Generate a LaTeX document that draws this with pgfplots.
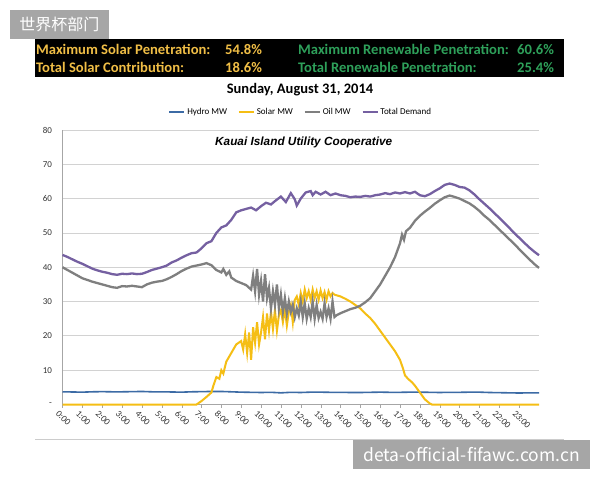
\documentclass[border=0pt]{standalone}
\usepackage{pgfplots}
\pgfplotsset{compat=1.18}
\usepackage{fontspec}
\setmainfont{Carlito}
\newfontfamily\arialf{Liberation Sans}
\newfontfamily\cjk{Noto Sans CJK SC}
\definecolor{hydro}{HTML}{3C6BA5}
\definecolor{solar}{HTML}{F5BE14}
\definecolor{oil}{HTML}{7F7F7F}
\definecolor{demand}{HTML}{7560A1}
\definecolor{bgold}{HTML}{F0BE46}
\definecolor{bgreen}{HTML}{2EA05A}
\definecolor{wm}{HTML}{A6A6A6}
\begin{document}
\begin{tikzpicture}
\fill[white] (0pt,0pt) rectangle (600pt,-480pt);
\path[use as bounding box] (0pt,0pt) rectangle (600pt,-480pt);
% watermark top-left
\fill[wm] (10pt,-10pt) rectangle (109pt,-39pt);
\node[text=white,font=\cjk\fontsize{16}{18}\selectfont] at (59.5pt,-24.5pt) {世界杯部门};
% banner
\fill[black] (35pt,-39pt) rectangle (564pt,-77pt);
\begin{scope}[every node/.style={anchor=base west,inner sep=0pt,font=\fontsize{14.6}{16}\selectfont\bfseries}]
\node[text=bgold] at (36pt,-54.5pt) {Maximum Solar Penetration:};
\node[text=bgold] at (225pt,-54.5pt) {54.8\%};
\node[text=bgold] at (36pt,-72pt) {Total Solar Contribution:};
\node[text=bgold] at (225pt,-72pt) {18.6\%};
\node[text=bgreen] at (298pt,-54.5pt) {Maximum Renewable Penetration:};
\node[text=bgreen] at (517pt,-54.5pt) {60.6\%};
\node[text=bgreen] at (298pt,-72pt) {Total Renewable Penetration:};
\node[text=bgreen] at (517pt,-72pt) {25.4\%};
\end{scope}
% title
\node[font=\fontsize{14.5}{16}\selectfont\bfseries] at (300pt,-90pt) {Sunday, August 31, 2014};
% separator line
\draw[gray!40,line width=1pt] (35pt,-439pt) -- (564pt,-439pt);
\begin{axis}[
  at={(62.5pt,-404.5pt)}, anchor=south west,
  scale only axis, width=476.5pt, height=274.5pt,
  xmin=0, xmax=24, ymin=0, ymax=80,
  axis x line*=bottom, axis y line*=left,
  axis line style={draw=gray!70, line width=0.8pt},
  xtick={0,...,23},
  xticklabels={0:00,1:00,2:00,3:00,4:00,5:00,6:00,7:00,8:00,9:00,10:00,11:00,12:00,13:00,14:00,15:00,16:00,17:00,18:00,19:00,20:00,21:00,22:00,23:00},
  xticklabel style={rotate=-45, anchor=north west, inner sep=0.5pt, yshift=-3pt, xshift=-1pt, font=\fontsize{9.2}{10}\selectfont, text=black!80},
  ytick={0,10,...,80},
  yticklabels={{-\hspace{3pt}},10,20,30,40,50,60,70,80},
  yticklabel style={font=\fontsize{9}{10}\selectfont, text=black!80, xshift=-4pt},
  /pgf/number format/assume math mode=true,
  ymajorgrids, grid style={gray!35, line width=0.8pt},
  major tick length=3pt, tick align=outside,
  ytick style={draw=none}, xtick style={draw=gray!70},
  legend columns=4,
  legend style={at={(0.5,1.065)}, anchor=center, draw=none, fill=none,
    font=\fontsize{9}{10}\selectfont, /tikz/every even column/.append style={column sep=9pt}},
  legend image code/.code={\draw[#1, line width=1.8pt] (0pt,0pt) -- (15pt,0pt);},
  clip=false,
]
\addplot[hydro, line width=1.6pt] coordinates {
(0,3.7)(0.5,3.65)(1,3.6)(1.5,3.7)(2,3.75)(2.5,3.7)(3,3.7)(3.5,3.75)(4,3.8)(4.5,3.7)(5,3.7)(5.5,3.65)(6,3.6)(6.5,3.7)(7,3.75)(7.5,3.8)(8,3.8)(8.5,3.7)(9,3.6)(9.5,3.55)(10,3.5)(10.5,3.55)(11,3.4)(11.5,3.55)(12,3.5)(12.5,3.6)(13,3.6)(13.5,3.55)(14,3.55)(14.5,3.5)(15,3.5)(15.5,3.55)(16,3.6)(16.5,3.55)(17,3.55)(17.5,3.6)(18,3.6)(18.5,3.55)(19,3.5)(19.5,3.55)(20,3.55)(20.5,3.6)(21,3.6)(21.5,3.5)(22,3.45)(22.5,3.4)(23,3.35)(23.5,3.4)(24,3.4)
};
\addlegendentry{Hydro MW}
\addplot[solar, line width=2pt] coordinates {
(0,0)(6.75,0)(7.0,1.0)(7.25,2.2)(7.5,3.5)(7.6,5.5)(7.75,8.0)(7.9,7.5)(8.0,10.0)(8.1,9.0)(8.25,12.5)(8.5,15.0)(8.75,17.5)(9.0,18.5)(9.1,16.0)(9.2,20.5)(9.3,15.0)(9.4,21.0)(9.5,13.0)(9.6,22.5)(9.7,18.0)(9.8,24.0)(9.9,17.5)(10.0,21.0)(10.1,25.5)(10.2,19.0)(10.3,26.5)(10.4,21.5)(10.5,27.0)(10.6,22.0)(10.7,27.5)(10.8,21.5)(10.9,26.0)(11.0,27.5)(11.1,24.0)(11.2,28.0)(11.3,23.0)(11.4,27.0)(11.5,29.0)(11.6,24.0)(11.7,30.5)(11.8,31.5)(11.9,29.0)(12.0,32.5)(12.1,30.0)(12.2,33.5)(12.3,31.0)(12.4,33.0)(12.5,30.5)(12.6,33.5)(12.7,31.0)(12.8,33.0)(12.9,30.5)(13.0,33.2)(13.1,31.0)(13.2,32.8)(13.3,30.5)(13.4,33.0)(13.5,31.5)(13.6,32.5)(13.7,32.0)(14.0,31.5)(14.25,30.8)(14.5,30.0)(14.75,29.0)(15.0,28.0)(15.25,26.5)(15.5,25.2)(15.75,23.5)(16.0,21.5)(16.25,19.5)(16.5,17.5)(16.75,15.5)(17.0,13.0)(17.15,10.5)(17.25,8.5)(17.4,7.5)(17.6,6.5)(17.75,5.5)(18.0,3.5)(18.25,1.5)(18.5,0.3)(18.6,0)(24,0)
};
\addlegendentry{Solar MW}
\addplot[oil, line width=2.3pt] coordinates {
(0,40.0)(0.25,39.2)(0.5,38.4)(0.75,37.6)(1.0,36.8)(1.25,36.3)(1.5,35.8)(1.75,35.4)(2.0,35.0)(2.25,34.6)(2.5,34.2)(2.75,34.0)(3.0,34.5)(3.25,34.4)(3.5,34.6)(3.75,34.4)(4.0,34.2)(4.25,35.0)(4.5,35.5)(4.75,35.8)(5.0,36.0)(5.25,36.5)(5.5,37.2)(5.75,38.0)(6.0,38.9)(6.25,39.6)(6.5,40.2)(6.75,40.5)(7.0,40.8)(7.25,41.2)(7.5,40.6)(7.75,39.2)(8.0,38.5)(8.1,39.5)(8.25,37.8)(8.4,38.8)(8.5,37.0)(8.75,36.0)(9.0,35.4)(9.25,34.8)(9.5,33.5)(9.6,37.5)(9.7,33)(9.8,39.5)(9.9,32)(10.0,36)(10.1,30)(10.2,38)(10.3,31)(10.4,34)(10.5,28)(10.6,33)(10.7,29)(10.8,35)(10.9,28)(11.0,32)(11.1,27)(11.2,31)(11.3,26.5)(11.4,30)(11.5,27)(11.6,29)(11.7,25.5)(11.8,28)(11.9,26)(12.0,30)(12.1,25.5)(12.2,29.5)(12.3,25)(12.4,28)(12.5,25.5)(12.6,30)(12.7,25)(12.8,29)(12.9,25.2)(13.0,27)(13.1,25)(13.2,29.5)(13.3,25.5)(13.4,28)(13.5,25)(13.6,30)(13.7,25.5)(13.8,26)(14.0,26.6)(14.25,27.2)(14.5,27.8)(14.75,28.2)(15.0,28.8)(15.25,29.8)(15.5,31.0)(15.75,33.0)(16.0,35.0)(16.25,37.5)(16.5,40.0)(16.75,43.0)(17.0,47.0)(17.1,49.5)(17.2,48.0)(17.3,50.5)(17.5,51.5)(17.75,53.5)(18.0,55.0)(18.25,56.2)(18.5,57.3)(18.75,58.5)(19.0,59.5)(19.25,60.4)(19.5,60.9)(19.75,60.5)(20.0,60.0)(20.25,59.3)(20.5,58.6)(20.75,57.6)(21.0,56.4)(21.25,55.0)(21.5,53.8)(21.75,52.4)(22.0,51.0)(22.25,49.6)(22.5,48.2)(22.75,46.8)(23.0,45.3)(23.25,43.8)(23.5,42.4)(23.75,41.0)(24.0,39.8)
};
\addlegendentry{Oil MW}
\addplot[demand, line width=2.3pt] coordinates {
(0,43.6)(0.25,43.0)(0.5,42.3)(0.75,41.6)(1.0,41.0)(1.25,40.3)(1.5,39.6)(1.75,39.1)(2.0,38.7)(2.25,38.4)(2.5,38.0)(2.75,37.8)(3.0,38.1)(3.25,38.0)(3.5,38.2)(3.75,38.0)(4.0,38.1)(4.25,38.6)(4.5,39.2)(4.75,39.6)(5.0,40.0)(5.25,40.5)(5.5,41.4)(5.75,42.0)(6.0,42.8)(6.25,43.5)(6.5,44.1)(6.75,44.3)(7.0,45.5)(7.25,47.0)(7.5,47.6)(7.75,50.0)(8.0,51.6)(8.25,52.2)(8.5,53.8)(8.75,56.0)(9.0,56.6)(9.25,57.0)(9.5,57.4)(9.75,56.6)(10.0,57.8)(10.25,58.8)(10.5,58.3)(10.75,59.5)(11.0,60.6)(11.25,59.0)(11.5,61.6)(11.7,59.8)(11.8,58.0)(12.0,60.0)(12.25,61.8)(12.5,62.2)(12.6,61.0)(12.75,62.0)(13.0,61.2)(13.25,62.0)(13.5,61.0)(13.75,61.5)(14.0,61.0)(14.25,60.8)(14.5,60.4)(14.75,60.6)(15.0,60.5)(15.25,60.8)(15.5,60.6)(15.75,61.0)(16.0,61.2)(16.25,61.6)(16.5,61.3)(16.75,61.8)(17.0,61.5)(17.25,61.9)(17.5,61.5)(17.75,62.0)(18.0,61.0)(18.25,60.7)(18.5,61.3)(18.75,62.2)(19.0,63.0)(19.25,64.0)(19.5,64.4)(19.75,64.0)(20.0,63.4)(20.25,63.2)(20.5,62.4)(20.75,61.2)(21.0,59.8)(21.25,58.5)(21.5,57.2)(21.75,55.8)(22.0,54.4)(22.25,53.0)(22.5,51.5)(22.75,50.0)(23.0,48.6)(23.25,47.2)(23.5,45.8)(23.75,44.6)(24.0,43.5)
};
\addlegendentry{Total Demand}
\node[font=\arialf\fontsize{11.8}{13}\selectfont\bfseries\itshape] at (axis cs:12.15,76.4) {Kauai Island Utility Cooperative};
\end{axis}
% watermark bottom-right
\fill[wm] (353pt,-440pt) rectangle (590pt,-469pt);
\node[text=white,font=\cjk\fontsize{17.5}{19}\selectfont] at (471.5pt,-455pt) {deta-official-fifawc.com.cn};
\end{tikzpicture}
\end{document}
